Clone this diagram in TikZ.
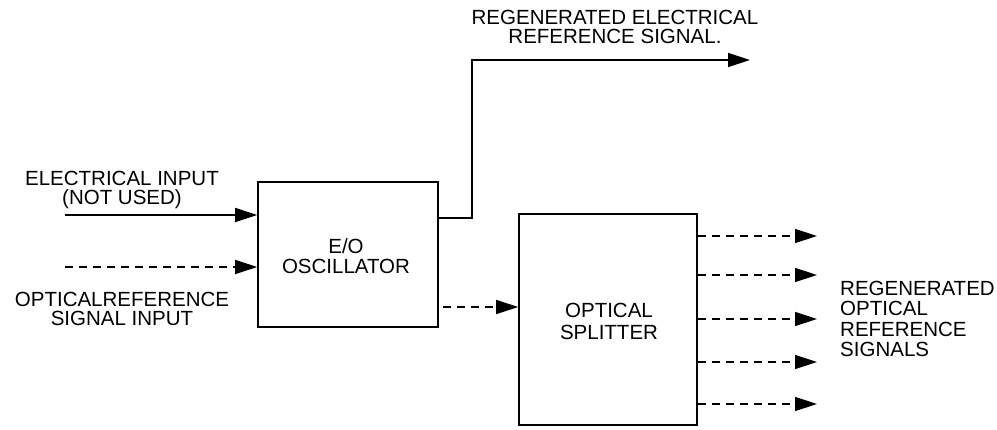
\documentclass[tikz,border=0pt]{standalone}
\usepackage{fontspec}
\setmainfont{Liberation Sans}
\usetikzlibrary{arrows.meta}
\begin{document}
\begin{tikzpicture}[x=1pt,y=1pt,
  box/.style={draw, line width=1.6pt, inner sep=0pt},
  lbl/.style={inner sep=0pt, font=\fontsize{20.5}{19.5}\selectfont},
  conn/.style={line width=1.4pt, -{Triangle[length=22pt,width=14pt]}},
  dconn/.style={conn, dash pattern=on 8pt off 6pt}]
\useasboundingbox (0,0) rectangle (997,-430);
% boxes
\node[box, minimum width=180pt, minimum height=145pt] (eo) at (348,-254.5) {};
\node[box, minimum width=178pt, minimum height=211pt] (sp) at (608,-319.5) {};
\node[lbl, align=center] (eotxt) at (346,-256) {E/O\\OSCILLATOR};
\node[lbl, align=center, font=\fontsize{20.5}{22}\selectfont] (sptxt) at (609,-321) {OPTICAL\\SPLITTER};
% inputs
\coordinate (ein) at (65,-215);
\coordinate (oin) at (65,-267);
\draw[conn] (ein) -- (ein -| eo.west);
\draw[dconn] (oin) -- (oin -| eo.west);
\node[lbl, align=center] (einl) at (122,-190) {ELECTRICAL INPUT\\(NOT USED)};
\node[lbl, align=center] (oinl) at (122,-309) {OPTICALREFERENCE\\SIGNAL INPUT};
% electrical output
\coordinate (eo1) at (438,-218);
\coordinate (eo2) at (472,-218);
\coordinate (eo3) at (472,-60);
\coordinate (eoend) at (750,-60);
\draw[conn] (eo1) -- (eo2) -- (eo3) -- (eoend);
\node[lbl, align=center] (eoutl) at (615,-27) {REGENERATED ELECTRICAL\\REFERENCE SIGNAL.};
% eo to splitter
\coordinate (mid) at (443,-307);
\draw[dconn] (mid) -- (mid -| sp.west);
% splitter outputs
\foreach \i/\y in {1/236,2/275,3/319,4/362,5/404}{
  \coordinate (o\i) at (817,-\y);
  \draw[dconn] (sp.east |- o\i) -- (o\i);
}
\node[lbl, align=left, anchor=west, font=\fontsize{20.5}{20.5}\selectfont] (outl) at (840,-319) {REGENERATED\\OPTICAL\\REFERENCE\\SIGNALS};
\end{tikzpicture}
\end{document}
